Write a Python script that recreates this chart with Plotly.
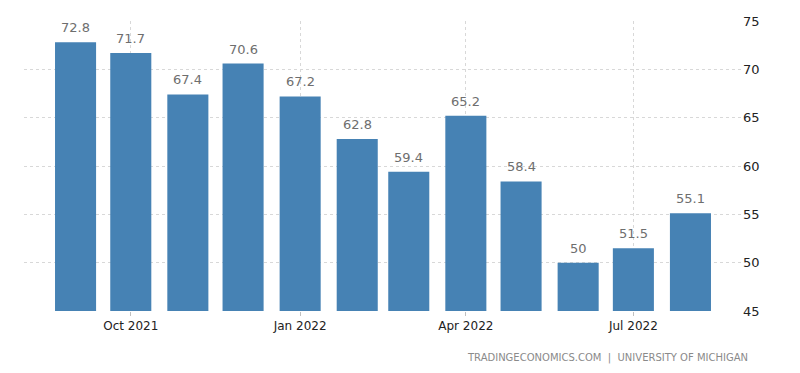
import plotly.graph_objects as go

months = ["2021-09-01", "2021-10-01", "2021-11-01", "2021-12-01", "2022-01-01", "2022-02-01",
          "2022-03-01", "2022-04-01", "2022-05-01", "2022-06-01", "2022-07-01", "2022-08-01"]
values = [72.8, 71.7, 67.4, 70.6, 67.2, 62.8, 59.4, 65.2, 58.4, 50, 51.5, 55.1]
labels = ["72.8", "71.7", "67.4", "70.6", "67.2", "62.8", "59.4", "65.2", "58.4", "50", "51.5", "55.1"]
tick_vals = ["2021-10-01", "2022-01-01", "2022-04-01", "2022-07-01"]
tick_text = ["Oct 2021", "Jan 2022", "Apr 2022", "Jul 2022"]

DAY = 86400000

fig = go.Figure(go.Bar(
    x=months, y=values,
    marker=dict(color="#4682b4", line=dict(width=0)),
    width=[22.3 * DAY] * len(months),
))

annotations = [
    dict(x=m, y=v, text=t, xref="x", yref="y", showarrow=False,
         yanchor="bottom", yshift=5,
         font=dict(color="#6e6e6e", size=13, family="DejaVu Sans"))
    for m, v, t in zip(months, values, labels)
]
annotations.append(dict(
    text="TRADINGECONOMICS.COM  |  UNIVERSITY OF MICHIGAN",
    xref="paper", yref="paper", x=1.011, y=-0.135, xanchor="right", yanchor="top",
    showarrow=False, font=dict(size=10, color="#8a8a8a", family="DejaVu Sans"),
))

fig.update_layout(
    width=792, height=365,
    margin=dict(l=16, r=58, t=13, b=62),
    paper_bgcolor="white", plot_bgcolor="white",
    showlegend=False,
    font=dict(family="DejaVu Sans", size=12, color="#333333"),
    xaxis=dict(
        type="date", range=["2021-08-04", "2022-08-29"],
        tickvals=tick_vals, ticktext=tick_text, automargin=False,
        showgrid=True, gridcolor="#d8d8d8", griddash="dot", gridwidth=1,
        ticks="outside", ticklen=4, tickcolor="#c0c0c0",
        tickfont=dict(size=12, color="#222222"),
        showline=False, zeroline=False,
    ),
    yaxis=dict(
        side="right", range=[45, 75], tickvals=[45, 50, 55, 60, 65, 70, 75],
        automargin=False,
        showgrid=True, gridcolor="#d8d8d8", griddash="dot", gridwidth=1,
        tickfont=dict(size=13, color="#222222"), ticks="", zeroline=False,
    ),
    annotations=annotations,
)

fig.write_html("out.html")
